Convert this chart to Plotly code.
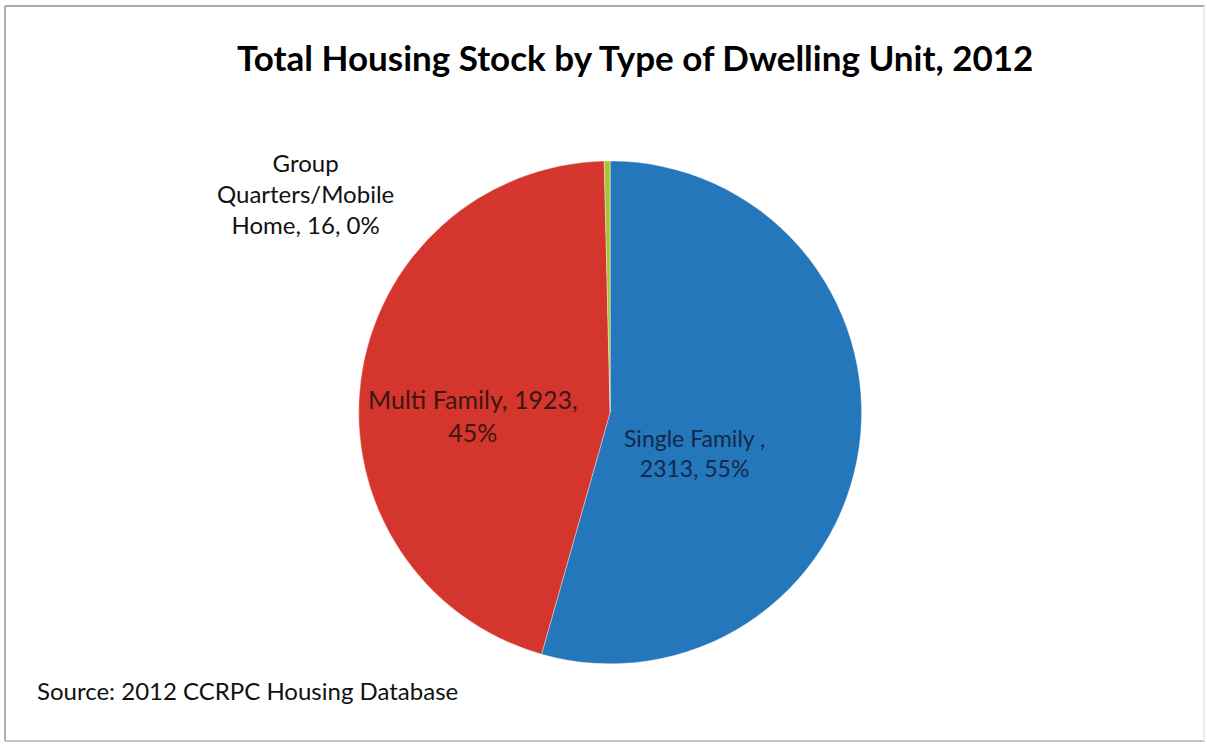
import plotly.graph_objects as go

# Housing stock by dwelling type, 2012
categories = ["Single Family", "Multi Family", "Group Quarters/Mobile Home"]
units = [2313, 1923, 16]
pct_labels = [55, 45, 0]
colors = ["#2477BB", "#D4352D", "#A8C23C"]

fig = go.Figure(
    go.Pie(
        labels=categories,
        values=units,
        sort=False,
        direction="clockwise",
        rotation=0,
        marker=dict(colors=colors, line=dict(color="rgba(255,255,255,0.6)", width=0.6)),
        textinfo="none",
        hoverinfo="label+value+percent",
        showlegend=False,
        domain=dict(x=[0.2900, 0.7210], y=[0.1090, 0.7840]),
    )
)

FONT = "Lato"

labels_text = [
    f"Single Family ,<br>{units[0]}, {pct_labels[0]}%",
    f"Multi Family, {units[1]},<br>{pct_labels[1]}%",
    "Group<br>Quarters/Mobile<br>Home, " + f"{units[2]}, {pct_labels[2]}%",
]
label_pos = [(694 / 1207, 1 - 453 / 745), (473 / 1207, 1 - 416 / 745), (305 / 1207, 1 - 193 / 745)]
label_colors = ["#13284a", "#3d1513", "#111111"]
label_sizes = [23, 25, 24]

annotations = []
for txt, (x, y), col, sz in zip(labels_text, label_pos, label_colors, label_sizes):
    annotations.append(
        dict(
            text=txt, x=x, y=y, xref="paper", yref="paper",
            xanchor="center", yanchor="middle", showarrow=False, align="center",
            font=dict(family=FONT, size=sz, color=col),
        )
    )

annotations.append(
    dict(
        text="<b>Total Housing Stock by Type of Dwelling Unit, 2012</b>",
        x=635 / 1207, y=1 - 57 / 745, xref="paper", yref="paper",
        xanchor="center", yanchor="middle", showarrow=False,
        font=dict(family=FONT, size=35, color="#000000"),
    )
)
annotations.append(
    dict(
        text="Source: 2012 CCRPC Housing Database",
        x=35 / 1207, y=1 - 690 / 745, xref="paper", yref="paper",
        xanchor="left", yanchor="middle", showarrow=False,
        font=dict(family=FONT, size=24, color="#111111"),
    )
)

# chart frame: grey on three sides, a faint edge on the right
def edge(x0, y0, x1, y1, color):
    return dict(type="line", xref="paper", yref="paper",
                x0=x0 / 1207, y0=1 - y0 / 745, x1=x1 / 1207, y1=1 - y1 / 745,
                line=dict(color=color, width=2))

shapes = [
    edge(5, 6, 1205, 6, "#a9a9a9"),
    edge(5, 6, 5, 741, "#b0b0b0"),
    edge(5, 741, 1205, 741, "#c4c4c4"),
    edge(1204, 6, 1204, 741, "#ececec"),
]

fig.update_layout(
    width=1207,
    height=745,
    margin=dict(l=0, r=0, t=0, b=0),
    paper_bgcolor="white",
    plot_bgcolor="white",
    annotations=annotations,
    shapes=shapes,
)

fig.write_html("out.html")
